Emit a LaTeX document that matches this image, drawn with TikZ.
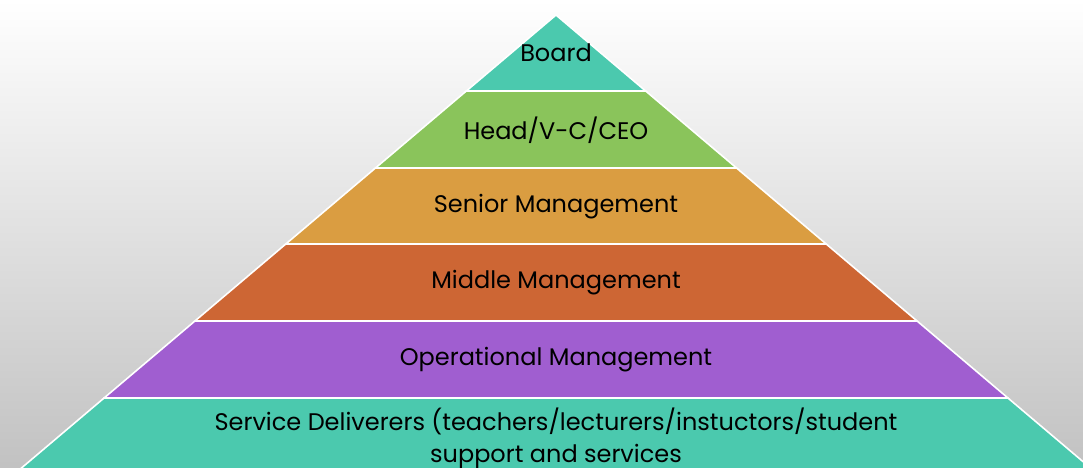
\documentclass[tikz,border=0pt]{standalone}
\usepackage{fontspec}
\setmainfont{Poppins}
\definecolor{boardteal}{HTML}{4BC9AE}
\definecolor{headgreen}{HTML}{8AC45B}
\definecolor{seniorgold}{HTML}{DA9D41}
\definecolor{middlerust}{HTML}{CD6634}
\definecolor{opspurple}{HTML}{A05ED0}
\begin{document}
\begin{tikzpicture}[x=1pt,y=-1pt,
	band/.style={draw=white,line width=1.6pt},
	lbl/.style={font=\fontsize{24}{32}\selectfont,text=black,align=center}]
	\useasboundingbox (0,0) rectangle (1083,467);
	\shade[top color=white,middle color=gray!8,bottom color=gray!48] (0,0) rectangle (1083,467);
	\clip (0,0) rectangle (1083,467);
	
	% bands of the pyramid, apex at (556,15), slope 1.18
	\foreach \ya/\yb/\col in {15/91/boardteal,91/168/headgreen,168/244/seniorgold,244/321/middlerust,321/398/opspurple,398/480/boardteal}
		\filldraw[band,fill=\col] ({556-1.18*(\ya-15)},\ya) -- ({556+1.18*(\ya-15)},\ya) -- ({556+1.18*(\yb-15)},\yb) -- ({556-1.18*(\yb-15)},\yb) -- cycle;
	
	\node[lbl] (board) at (556,53) {Board};
	\node[lbl] (head) at (556,130) {Head/V-C/CEO};
	\node[lbl] (senior) at (556,207) {Senior Management};
	\node[lbl] (middle) at (556,283) {Middle Management};
	\node[lbl] (ops) at (556,360) {Operational Management};
	\node[lbl] (deliver) at (556,438) {Service Deliverers (teachers/lecturers/instuctors/student\\support and services};
\end{tikzpicture}
\end{document}
